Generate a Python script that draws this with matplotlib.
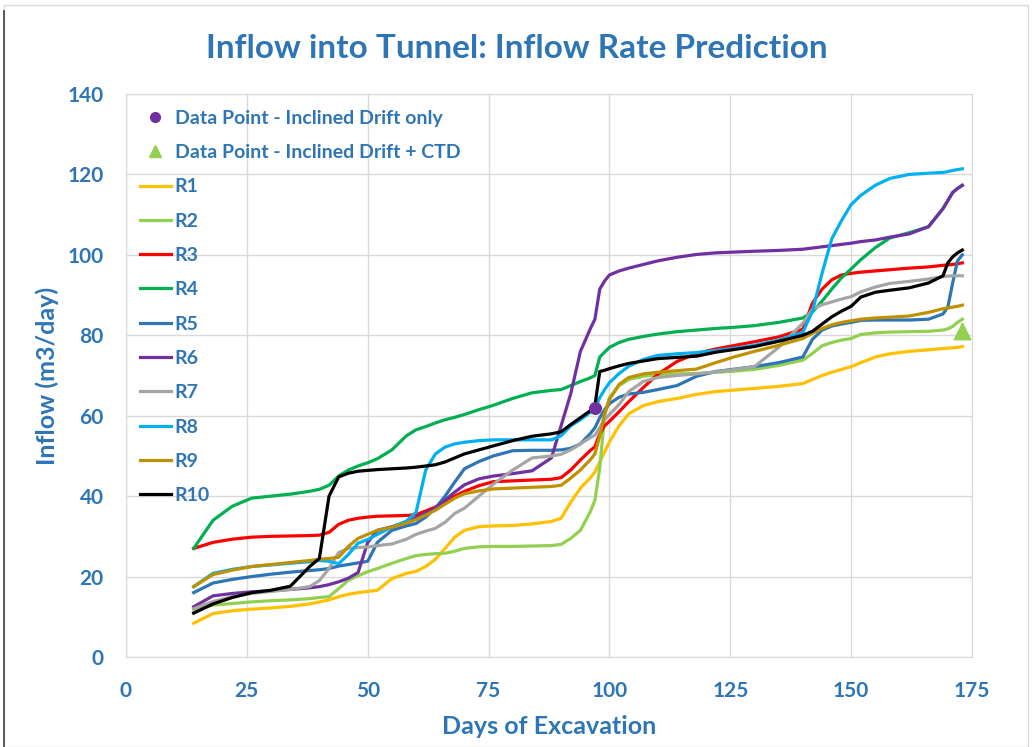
import matplotlib.pyplot as plt
from matplotlib.lines import Line2D
from matplotlib.patches import Rectangle

# days on the x axis, shared by all runs
days = [14, 18, 22, 26, 30, 34, 38, 40, 42, 44, 46, 48, 50, 52, 55, 58, 60, 62, 64, 66,
        68, 70, 73, 76, 80, 84, 88, 90, 92, 94, 96, 97, 98, 99, 100, 102, 104, 107, 110, 114,
        118, 122, 126, 130, 135, 140, 142, 144, 146, 148, 150, 152, 155, 158, 162, 166, 169, 170,
        171, 172, 173]

r1 = [8.4, 10.8, 11.5, 11.9, 12.2, 12.6, 13.2, 13.7, 14.2, 15.0, 15.6, 16.0, 16.3, 16.6, 19.5, 20.8, 21.3, 22.5, 24.3, 27.0,
      29.8, 31.5, 32.4, 32.6, 32.7, 33.1, 33.7, 34.5, 38.5, 42.0, 44.5, 46.0, 48.5, 51.0, 53.5, 57.5, 60.5, 62.5, 63.5, 64.3,
      65.3, 66.0, 66.4, 66.8, 67.3, 68.0, 69.0, 70.0, 70.8, 71.5, 72.2, 73.2, 74.6, 75.4, 76.0, 76.4, 76.7, 76.8,
      76.9, 77.0, 77.2]
r2 = [11.7, 12.9, 13.3, 13.7, 14.0, 14.2, 14.5, 14.8, 15.0, 17.0, 19.1, 20.2, 21.2, 22.0, 23.3, 24.5, 25.2, 25.5, 25.7, 25.8,
      26.3, 27.0, 27.4, 27.5, 27.5, 27.6, 27.7, 28.0, 29.5, 31.5, 36.0, 39.0, 47.0, 60.0, 64.5, 67.5, 69.0, 69.8, 70.2, 70.4,
      70.5, 70.8, 71.1, 71.5, 72.5, 73.8, 75.5, 77.4, 78.2, 78.8, 79.2, 80.2, 80.6, 80.8, 80.9, 81.0, 81.3, 81.6,
      82.2, 83.2, 84.0]
r3 = [27.0, 28.5, 29.3, 29.8, 30.0, 30.1, 30.2, 30.3, 31.0, 33.0, 34.0, 34.5, 34.8, 35.0, 35.1, 35.2, 35.4, 36.3, 37.3, 38.6,
      40.0, 41.2, 42.6, 43.6, 43.8, 44.0, 44.2, 44.6, 46.5, 49.0, 51.3, 52.3, 55.5, 57.5, 58.6, 61.0, 63.5, 67.0, 70.3, 73.5,
      75.5, 76.6, 77.5, 78.4, 79.6, 81.5, 88.0, 91.5, 93.8, 95.0, 95.4, 95.7, 96.0, 96.3, 96.7, 97.0, 97.4, 97.5,
      97.6, 97.8, 98.0]
r4 = [27.0, 34.0, 37.5, 39.5, 40.0, 40.5, 41.2, 41.7, 42.7, 45.0, 46.5, 47.5, 48.3, 49.3, 51.5, 55.0, 56.5, 57.3, 58.2, 59.0,
      59.6, 60.3, 61.5, 62.6, 64.3, 65.7, 66.3, 66.5, 67.5, 68.5, 69.4, 70.0, 74.6, 75.8, 77.0, 78.2, 79.0, 79.7, 80.3, 80.9,
      81.3, 81.7, 82.0, 82.4, 83.2, 84.3, 85.8, 88.5, 91.5, 94.3, 96.5, 98.8, 101.8, 104.2, 105.5, 107.0, 111.5, 113.5,
      115.5, 116.5, 117.3]
r5 = [16.0, 18.4, 19.3, 20.0, 20.6, 21.1, 21.5, 21.7, 22.0, 22.6, 23.0, 23.4, 23.8, 28.5, 31.5, 32.6, 33.2, 34.8, 37.0, 40.0,
      43.5, 46.8, 48.6, 50.0, 51.3, 51.4, 51.4, 51.5, 51.9, 53.0, 55.5, 57.0, 59.5, 61.5, 63.0, 64.6, 65.4, 65.8, 66.5, 67.5,
      69.8, 71.0, 71.6, 72.2, 73.2, 74.6, 79.0, 81.3, 82.3, 82.8, 83.2, 83.7, 83.8, 83.8, 83.8, 84.0, 85.3, 87.0,
      93.0, 98.5, 100.0]
r6 = [12.5, 15.2, 15.8, 16.2, 16.5, 16.8, 17.2, 17.5, 18.0, 18.7, 19.6, 21.0, 28.5, 31.5, 32.4, 33.5, 34.7, 35.8, 37.0, 39.0,
      41.0, 42.8, 44.3, 45.0, 45.6, 46.3, 49.5, 57.5, 65.5, 76.0, 81.5, 84.0, 91.5, 93.5, 95.0, 96.0, 96.7, 97.6, 98.5, 99.4,
      100.1, 100.5, 100.7, 100.9, 101.1, 101.4, 101.7, 102.0, 102.3, 102.6, 102.9, 103.3, 103.7, 104.4, 105.2, 107.0, 111.5, 113.5,
      115.5, 116.5, 117.3]
r7 = [12.0, 13.8, 15.0, 15.8, 16.3, 16.8, 17.5, 19.0, 22.0, 26.0, 27.0, 27.2, 27.4, 27.7, 28.1, 29.3, 30.5, 31.3, 32.0, 33.5,
      35.7, 37.0, 40.0, 43.0, 46.5, 49.5, 50.0, 50.4, 51.5, 53.0, 54.5, 55.2, 57.0, 59.0, 60.3, 62.8, 66.0, 68.5, 69.5, 70.0,
      70.4, 70.9, 71.5, 72.2, 77.0, 83.0, 86.5, 87.6, 88.3, 89.0, 89.6, 90.8, 92.0, 92.9, 93.4, 94.0, 94.6, 94.7,
      94.8, 94.8, 94.8]
r8 = [17.5, 20.8, 21.8, 22.5, 22.9, 23.3, 23.7, 24.0, 23.8, 23.2, 25.5, 28.3, 29.2, 30.5, 32.3, 33.8, 36.0, 46.5, 50.5, 52.2,
      53.0, 53.4, 53.8, 54.0, 54.0, 54.0, 54.0, 55.0, 57.5, 59.0, 60.8, 61.8, 64.5, 66.5, 68.2, 70.5, 72.3, 74.0, 75.0, 75.4,
      75.7, 76.2, 76.8, 77.5, 78.8, 80.7, 86.0, 95.5, 104.0, 108.5, 112.5, 114.8, 117.3, 119.0, 120.0, 120.3, 120.5, 120.7,
      121.0, 121.2, 121.4]
r9 = [17.5, 20.5, 21.6, 22.5, 23.0, 23.5, 24.0, 24.3, 24.5, 24.8, 27.5, 29.5, 30.5, 31.5, 32.3, 33.3, 34.2, 35.3, 36.5, 38.0,
      39.5, 40.6, 41.3, 41.8, 42.0, 42.2, 42.4, 42.7, 44.5, 46.5, 49.0, 50.5, 55.0, 60.5, 64.0, 67.8, 69.5, 70.4, 70.8, 71.2,
      71.6, 73.2, 74.7, 76.0, 77.5, 79.2, 80.5, 81.7, 82.6, 83.2, 83.6, 84.0, 84.3, 84.5, 84.8, 85.7, 86.6, 86.8,
      87.0, 87.2, 87.5]
r10 = [10.9, 13.2, 14.8, 16.0, 16.6, 17.6, 22.5, 24.5, 40.0, 44.8, 45.7, 46.2, 46.4, 46.6, 46.8, 47.0, 47.2, 47.5, 47.8, 48.5,
       49.5, 50.5, 51.5, 52.5, 53.8, 54.9, 55.5, 56.0, 57.8, 59.5, 61.2, 62.5, 71.0, 71.3, 71.7, 72.4, 73.0, 73.6, 74.2, 74.5,
       74.8, 75.8, 76.5, 77.2, 78.5, 80.0, 81.0, 82.8, 84.6, 86.0, 87.2, 89.5, 90.7, 91.2, 91.8, 93.0, 94.8, 98.0,
       99.5, 100.5, 101.2]

runs = [r1, r2, r3, r4, r5, r6, r7, r8, r9, r10]
run_names = ['R1', 'R2', 'R3', 'R4', 'R5', 'R6', 'R7', 'R8', 'R9', 'R10']
run_colors = ['#FFC000', '#92D050', '#FF0000', '#00B050', '#2E75B6',
              '#7030A0', '#A5A5A5', '#00B0F0', '#BF9000', '#000000']

# measured points
drift_day = [97]
drift_flow = [62]
ctd_day = [173]
ctd_flow = [81]

blue = '#2E75B6'
plt.rcParams['font.family'] = ['Lato', 'DejaVu Sans']
plt.rcParams['font.weight'] = 'bold'

fig = plt.figure(figsize=(10.34, 7.47), dpi=100)
ax = fig.add_axes([126/1034, 1-657/747, (972-126)/1034, (657-94)/747])

for vals, name, col in zip(runs, run_names, run_colors):
    ax.plot(days, vals, color=col, lw=2.3, label=name, zorder=3)
ax.scatter(drift_day, drift_flow, s=70, color='#7030A0', marker='o', zorder=5)
ax.scatter(ctd_day, ctd_flow, s=140, color='#92D050', marker='^', zorder=5)

ax.set_xlim(0, 175)
ax.set_ylim(0, 140)
ax.set_xticks(range(0, 176, 25))
ax.set_yticks(range(0, 141, 20))
ax.grid(True, color='#D9D9D9', lw=1)
ax.set_axisbelow(True)
for s in ax.spines.values():
    s.set_color('#D9D9D9')
ax.tick_params(axis='x', length=0, labelsize=15, labelcolor=blue, pad=17)
ax.tick_params(axis='y', length=0, labelsize=15, labelcolor=blue, pad=16)

fig.text(0.5, 1-48/747, 'Inflow into Tunnel: Inflow Rate Prediction', fontsize=24,
         color=blue, fontweight='bold', ha='center', va='center')
ax.set_xlabel('Days of Excavation', fontsize=18, color=blue, fontweight='bold', labelpad=10)
ax.set_ylabel('Inflow (m3/day)', fontsize=18, color=blue, fontweight='bold', labelpad=6)

handles = [Line2D([], [], ls='none', marker='o', color='#7030A0', ms=7),
           Line2D([], [], ls='none', marker='^', color='#92D050', ms=8)]
labels = ['Data Point - Inclined Drift only', 'Data Point - Inclined Drift + CTD']
h, l = ax.get_legend_handles_labels()
leg = ax.legend(handles + h, labels + l, loc='upper left', frameon=False,
                fontsize=14, labelcolor=blue, handlelength=1.6, handletextpad=0.2,
                labelspacing=0.89, borderaxespad=0.0,
                bbox_to_anchor=(6/846, 1-8/563))

# outer frame of the picture
fig.patches.append(Rectangle((0.004, 0.0), 0.99, 0.993, transform=fig.transFigure,
                             fill=False, edgecolor='#D9D9D9', lw=1))
fig.lines.append(Line2D([0.004, 0.004], [0.0, 0.985], transform=fig.transFigure,
                        color='#404040', lw=1.2))

fig.savefig('out.png', dpi=100)
